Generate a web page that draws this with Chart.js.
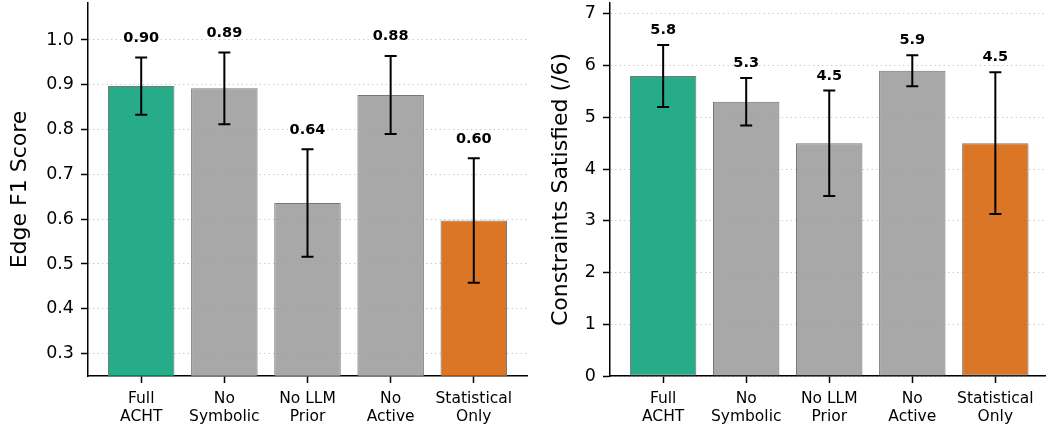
<!DOCTYPE html>
<html>
<head>
<meta charset="utf-8">
<script src="https://cdn.jsdelivr.net/npm/chart.js@4/dist/chart.umd.min.js"></script>
<style>
    html, body { margin: 0; padding: 0; background: #fff; }
    #wrap { position: relative; width: 1046px; height: 425px; overflow: hidden; }
    #leftBox { position: absolute; left: 0; top: 0; width: 530px; height: 425px; }
    #rightBox { position: absolute; left: 530px; top: 0; width: 516px; height: 425px; }
</style>
</head>
<body>
<div id="wrap">
    <div id="leftBox"><canvas id="f1Chart" width="530" height="425"></canvas></div>
    <div id="rightBox"><canvas id="constraintChart" width="516" height="425"></canvas></div>
</div>
<script>
// Data
const variants = [['Full', 'ACHT'], ['No', 'Symbolic'], ['No LLM', 'Prior'], ['No', 'Active'], ['Statistical', 'Only']];
const f1Means = [0.897, 0.892, 0.636, 0.877, 0.597];
const f1Errors = [0.064, 0.080, 0.120, 0.087, 0.139];
const constraintMeans = [5.8, 5.3, 4.5, 5.9, 4.5];
const constraintErrors = [0.60, 0.46, 1.02, 0.30, 1.37];

// Bar colours: full method, ablations, statistical baseline
const barColors = ['rgba(0,158,115,0.85)', 'rgba(153,153,153,0.85)', 'rgba(153,153,153,0.85)',
    'rgba(153,153,153,0.85)', 'rgba(213,94,0,0.85)'];

const FONT = '"DejaVu Sans", sans-serif';

// Error bars + value labels drawn through the chart scales
const errorBarPlugin = {
    id: 'errorBars',
    afterDatasetsDraw(chart, args, opts) {
        const { ctx } = chart;
        const xs = chart.scales.x;
        const ys = chart.scales.y;
        ctx.save();
        ctx.strokeStyle = '#000';
        ctx.lineWidth = 2;
        opts.means.forEach((m, i) => {
            const x = xs.getPixelForValue(i);
            const hi = ys.getPixelForValue(m + opts.errors[i]);
            const lo = ys.getPixelForValue(m - opts.errors[i]);
            ctx.beginPath();
            ctx.moveTo(x, lo); ctx.lineTo(x, hi);
            ctx.moveTo(x - 6, hi); ctx.lineTo(x + 6, hi);
            ctx.moveTo(x - 6, lo); ctx.lineTo(x + 6, lo);
            ctx.stroke();

            ctx.fillStyle = '#000';
            ctx.font = 'bold 14.5px ' + FONT;
            ctx.textAlign = 'center';
            ctx.textBaseline = 'alphabetic';
            const ty = ys.getPixelForValue(m + opts.errors[i] + opts.labelOffset);
            ctx.fillText(m.toFixed(opts.digits), x, ty);
        });
        ctx.restore();
    }
};

// drop the label padding Chart.js reserves so the plot fills the box
function noEdgePadding(scale) {
    scale.paddingTop = 0;
    scale.paddingBottom = 0;
    scale.paddingLeft = 0;
    scale.paddingRight = 0;
}

function buildChart(canvasId, cfg) {
    const ctx = document.getElementById(canvasId).getContext('2d');
    return new Chart(ctx, {
        type: 'bar',
        data: {
            datasets: [{
                data: cfg.means.map((v, i) => ({ x: i, y: v })),
                backgroundColor: barColors,
                borderColor: '#777',
                borderWidth: 1,
                borderSkipped: false,
                barPercentage: 0.8,
                categoryPercentage: 1.0
            }]
        },
        options: {
            responsive: false,
            animation: false,
            devicePixelRatio: 1,
            layout: { padding: { top: 3, right: cfg.padRight, bottom: 0, left: 0 } },
            plugins: {
                legend: { display: false },
                tooltip: { enabled: false },
                errorBars: { means: cfg.means, errors: cfg.errors, labelOffset: cfg.labelOffset, digits: cfg.digits }
            },
            scales: {
                x: {
                    type: 'linear',
                    min: -0.64,
                    max: cfg.xMax,
                    offset: false,
                    afterBuildTicks: (scale) => { scale.ticks = variants.map((_, i) => ({ value: i })); },
                    afterFit: (scale) => { scale.height = 49; noEdgePadding(scale); },
                    ticks: {
                        callback: (value) => variants[value],
                        color: '#000',
                        font: { family: FONT, size: 15.5, lineHeight: 1.15 },
                        padding: 7,
                        maxRotation: 0,
                        autoSkip: false
                    },
                    grid: {
                        offset: false,
                        drawOnChartArea: false,
                        drawTicks: true,
                        tickLength: 7,
                        tickColor: '#000',
                        tickWidth: 1.5
                    },
                    border: { display: true, color: '#000', width: 1.5 }
                },
                y: {
                    min: cfg.yMin,
                    max: cfg.yMax,
                    afterFit: (scale) => { scale.width = cfg.yWidth; noEdgePadding(scale); },
                    ticks: {
                        stepSize: cfg.yStep,
                        includeBounds: false,
                        callback: cfg.yFormat,
                        color: '#000',
                        font: { family: FONT, size: 17.5 },
                        padding: 7
                    },
                    grid: {
                        color: 'rgba(0,0,0,0.2)',
                        lineWidth: 1,
                        tickColor: '#000',
                        tickLength: 7,
                        tickWidth: 1.5,
                        tickBorderDash: []
                    },
                    border: { display: true, color: '#000', width: 1.5, dash: [1.5, 3] },
                    title: {
                        display: true,
                        text: cfg.yTitle,
                        color: '#000',
                        font: { family: FONT, size: 22, lineHeight: 1.2 },
                        padding: { top: cfg.titlePad, bottom: 0 }
                    }
                }
            }
        },
        plugins: [errorBarPlugin]
    });
}

document.addEventListener('DOMContentLoaded', () => {
    buildChart('f1Chart', {
        means: f1Means,
        errors: f1Errors,
        labelOffset: 0.035,
        digits: 2,
        xMax: 4.64,
        padRight: 3,
        yMin: 0.25,
        yMax: 1.0825,
        yStep: 0.1,
        yFormat: (v) => v.toFixed(1),
        yWidth: 88,
        yTitle: 'Edge F1 Score',
        titlePad: 7
    });

    buildChart('constraintChart', {
        means: constraintMeans,
        errors: constraintErrors,
        labelOffset: 0.21,
        digits: 1,
        xMax: 4.61,
        padRight: 0,
        yMin: 0,
        yMax: 7.21,
        yStep: 1,
        yFormat: (v) => Math.round(v).toString(),
        yWidth: 80,
        yTitle: 'Constraints Satisfied (/6)',
        titlePad: 18
    });
});
</script>
</body>
</html>
